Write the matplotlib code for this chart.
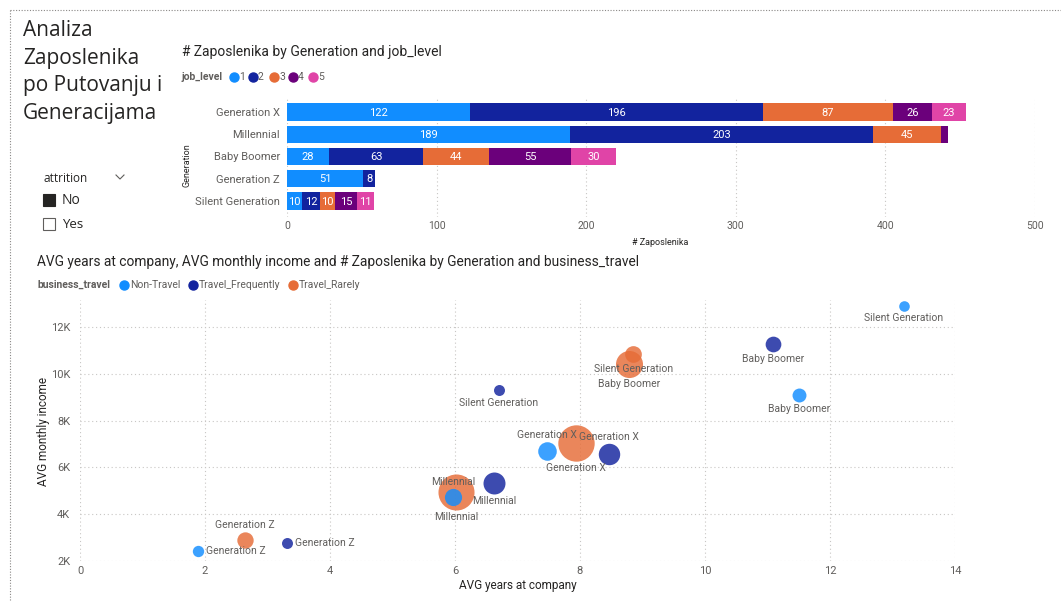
import numpy as np
import matplotlib
matplotlib.use('Agg')
import matplotlib.pyplot as plt
from matplotlib.lines import Line2D
from matplotlib.patches import Rectangle

# podaci - bar chart (# Zaposlenika by Generation and job_level)
generations = ['Generation X', 'Millennial', 'Baby Boomer', 'Generation Z', 'Silent Generation']
job_levels = ['1', '2', '3', '4', '5']
level_1 = [122, 189, 28, 51, 10]
level_2 = [196, 203, 63, 8, 12]
level_3 = [87, 45, 44, 0, 10]
level_4 = [26, 5, 55, 0, 15]
level_5 = [23, 0, 30, 0, 11]

# podaci - bubble chart, isti redoslijed generacija
travel_types = ['Non-Travel', 'Travel_Frequently', 'Travel_Rarely']
nontravel_years = [7.47, 5.97, 11.5, 1.89, 13.18]
nontravel_income = [6700, 4710, 9110, 2430, 12910]
nontravel_count = [62, 50, 25, 9, 5]
frequent_years = [8.47, 6.63, 11.09, 3.32, 6.70]
frequent_income = [6560, 5320, 11270, 2760, 9310]
frequent_count = [90, 96, 38, 7, 7]
rarely_years = [7.93, 6.02, 8.79, 2.64, 8.85]
rarely_income = [7060, 4950, 10430, 2890, 10860]
rarely_count = [302, 296, 157, 43, 46]

job_colors = ['#118DFF', '#12239E', '#E66C37', '#6B007B', '#E044A7']
travel_colors = ['#118DFF', '#12239E', '#E66C37']
# gdje ide labela za svaku tocku (stil, ne podaci)
label_pos = [['above', 'above', 'below', 'right', 'below'],
             ['above', 'below', 'below', 'right', 'below'],
             ['below', 'below', 'below', 'above', 'below']]

DARK = '#252423'
GREY = '#605E5C'
GRID = '#C8C6C4'
FONT = 'Roboto'

W, H = 1061, 602
fig = plt.figure(figsize=(W / 100, H / 100), dpi=100)


def fx(x):
    return x / W


def fy(y):
    return 1 - y / H


# okvir (tockasti)
fig.add_artist(Line2D([fx(10), 1], [fy(10), fy(10)], transform=fig.transFigure,
                      color='#8A8886', lw=0.8, linestyle=(0, (1, 1.5))))
fig.add_artist(Line2D([fx(10), fx(10)], [fy(10), 0], transform=fig.transFigure,
                      color='#8A8886', lw=0.8, linestyle=(0, (1, 1.5))))

# naslov lijevo gore
fig.text(fx(23), fy(20), 'Analiza\nZaposlenika\npo Putovanju i\nGeneracijama',
         fontsize=15, family='Open Sans', color=DARK, va='top', ha='left', linespacing=1.42)

# slicer attrition
fig.text(fx(43), fy(178), 'attrition', fontsize=8.5, family='Open Sans', color=DARK, va='center')
fig.add_artist(Line2D([fx(116), fx(120), fx(124)], [fy(175), fy(179), fy(175)],
                      transform=fig.transFigure, color=GREY, lw=0.8))
fig.add_artist(Rectangle((fx(43), fy(206)), 12 / W, 12 / H, transform=fig.transFigure,
                         facecolor=DARK, edgecolor=DARK, lw=0.8))
fig.add_artist(Rectangle((fx(43), fy(230)), 12 / W, 12 / H, transform=fig.transFigure,
                         facecolor='white', edgecolor=GREY, lw=0.8))
fig.text(fx(62), fy(200), 'No', fontsize=10, family='Open Sans', color=DARK, va='center')
fig.text(fx(62), fy(224), 'Yes', fontsize=9.5, family='Open Sans', color=DARK, va='center')

# ---------------- bar chart ----------------
fig.text(fx(182), fy(52), '# Zaposlenika by Generation and job_level', fontsize=10,
         family=FONT, color=DARK, va='center')
fig.text(fx(182), fy(77), 'job_level', fontsize=7.5, family=FONT, fontweight='bold',
         color=GREY, va='center')
leg_x = [234, 253, 274, 293, 313]
for xx, lab, col in zip(leg_x, job_levels, job_colors):
    fig.add_artist(Line2D([fx(xx)], [fy(77)], transform=fig.transFigure, marker='o',
                          markersize=6.5, color=col, lw=0))
    fig.text(fx(xx + 5), fy(77), lab, fontsize=7.5, family=FONT, color=GREY, va='center')

ax1 = fig.add_axes([fx(287), fy(217), (1035 - 287) / W, 120 / H])
ypos = np.arange(len(generations))
left = np.zeros(len(generations))
for vals, col in zip([level_1, level_2, level_3, level_4, level_5], job_colors):
    vals = np.array(vals)
    bars = ax1.barh(ypos, vals, left=left, height=0.77, color=col)
    for b, v in zip(bars, vals):
        if v >= 7:
            ax1.text(b.get_x() + b.get_width() / 2, b.get_y() + b.get_height() / 2 + 0.03,
                     str(v), ha='center', va='center', color='white', fontsize=8, family=FONT)
    left += vals

ax1.set_xlim(0, 500)
ax1.set_ylim(4.72, -0.674)
ax1.set_yticks(ypos, generations)
ax1.set_xticks(range(0, 501, 100))
ax1.xaxis.grid(True, linestyle=(0, (1, 2.5)), color=GRID, lw=0.8)
ax1.set_axisbelow(True)
for s in ax1.spines.values():
    s.set_visible(False)
ax1.tick_params(axis='y', length=0, labelsize=8, labelcolor=GREY, pad=5)
ax1.tick_params(axis='x', length=0, labelsize=7.5, labelcolor=GREY, pad=3)
for t in ax1.get_xticklabels() + ax1.get_yticklabels():
    t.set_family(FONT)
fig.text(fx(187), fy(165), 'Generation', rotation=90, fontsize=6.5, family=FONT,
         color=DARK, ha='center', va='center')
fig.text(fx(660), fy(242), '# Zaposlenika', fontsize=6.5, family=FONT, color=DARK,
         ha='center', va='center')

# ---------------- bubble chart ----------------
fig.text(fx(37), fy(262),
         'AVG years at company, AVG monthly income and # Zaposlenika by Generation and business_travel',
         fontsize=9.9, family=FONT, color=DARK, va='center')
fig.text(fx(37), fy(285), 'business_travel', fontsize=7.5, family=FONT, fontweight='bold',
         color=GREY, va='center')
for xx, lab, col in zip([124, 193, 293], travel_types, travel_colors):
    fig.add_artist(Line2D([fx(xx)], [fy(285)], transform=fig.transFigure, marker='o',
                          markersize=6.5, color=col, lw=0))
    fig.text(fx(xx + 6), fy(285), lab, fontsize=7.5, family=FONT, color=GREY, va='center')

ax2 = fig.add_axes([fx(80), fy(560.7), 875 / W, 260.7 / H])
series = [(nontravel_years, nontravel_income, nontravel_count),
          (frequent_years, frequent_income, frequent_count),
          (rarely_years, rarely_income, rarely_count)]
points = []
for si, (xs, ys, ns) in enumerate(series):
    for gi in range(len(generations)):
        points.append((ns[gi], xs[gi], ys[gi], si, gi))
points.sort(key=lambda p: -p[0])

for n, x, y, si, gi in points:
    r_px = np.sqrt(23 + 1.02 * n)
    ax2.scatter([x], [y], s=(2 * r_px * 0.72) ** 2, color=travel_colors[si],
                alpha=0.82, linewidths=0, zorder=3)
    pos = label_pos[si][gi]
    if pos == 'above':
        off, ha, va = (0, (r_px + 2) * 0.72), 'center', 'bottom'
    elif pos == 'below':
        off, ha, va = (0, -(r_px + 2) * 0.72), 'center', 'top'
    else:
        off, ha, va = ((r_px + 2) * 0.72, 0), 'left', 'center'
    ax2.annotate(generations[gi], (x, y), xytext=off, textcoords='offset points',
                 ha=ha, va=va, fontsize=7.5, color=GREY, family=FONT, zorder=4)

ax2.set_xlim(0, 14)
ax2.set_ylim(2000, 13170)
ax2.set_xticks(range(0, 15, 2))
yt = list(range(2000, 12001, 2000))
ax2.set_yticks(yt, [f'{v // 1000}K' for v in yt])
ax2.grid(True, linestyle=(0, (1, 2.5)), color=GRID, lw=0.8)
ax2.set_axisbelow(True)
for s in ax2.spines.values():
    s.set_visible(False)
ax2.tick_params(axis='y', length=0, labelsize=8, labelcolor=GREY, pad=7)
ax2.tick_params(axis='x', length=0, labelsize=8, labelcolor=GREY, pad=3.5)
for t in ax2.get_xticklabels() + ax2.get_yticklabels():
    t.set_family(FONT)
fig.text(fx(43), fy(432), 'AVG monthly income', rotation=90, fontsize=8.5, family=FONT,
         color=DARK, ha='center', va='center')
fig.text(fx(518), fy(586), 'AVG years at company', fontsize=8.5, family=FONT, color=DARK,
         ha='center', va='center')

fig.savefig('out.png', dpi=100)
